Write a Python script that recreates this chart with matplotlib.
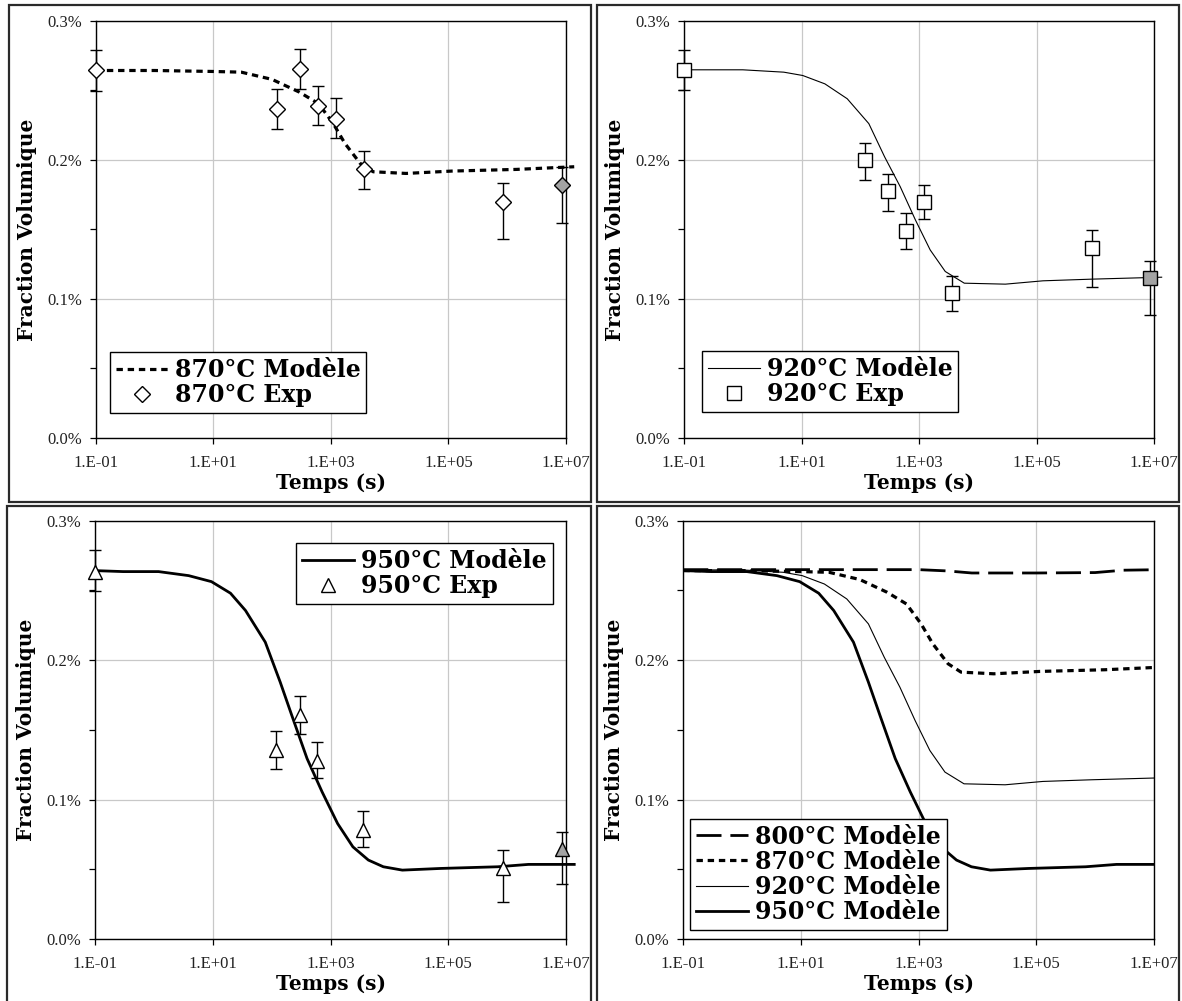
import numpy as np
import matplotlib
matplotlib.use("Agg")
import matplotlib.pyplot as plt
from matplotlib.ticker import FixedLocator, MultipleLocator, FuncFormatter, NullLocator
from matplotlib.patches import Rectangle

# ---- data (volume fraction in %) ----
t_exp = [0.1, 120, 300, 600, 1200, 3600, 864000, 8640000]

exp_870 = [0.2642, 0.2368, 0.2654, 0.2384, 0.2296, 0.1931, 0.1699, 0.1819]
lo_870 = [0.0146, 0.0146, 0.0143, 0.0136, 0.0139, 0.0141, 0.0265, 0.0270]
hi_870 = [0.0146, 0.0143, 0.0143, 0.0143, 0.0148, 0.0134, 0.0136, 0.0131]

exp_920 = [0.2647, 0.1997, 0.1775, 0.1488, 0.1698, 0.1046, 0.1364, 0.1149]
lo_920 = [0.0148, 0.0143, 0.0141, 0.0131, 0.0120, 0.0131, 0.0275, 0.0263]
hi_920 = [0.0143, 0.0127, 0.0122, 0.0131, 0.0120, 0.0120, 0.0131, 0.0120]

exp_950 = [0.2635, 0.1353, 0.1609, 0.1277, 0.0780, 0.0506, 0.0644]
t_exp_950 = [0.1, 120, 300, 600, 3600, 864000, 8640000]
lo_950 = [0.0136, 0.0131, 0.0136, 0.0122, 0.0119, 0.0243, 0.0246]
hi_950 = [0.0155, 0.0138, 0.0134, 0.0136, 0.0136, 0.0131, 0.0124]

t_800 = [0.1, 10, 1000, 3000, 8000, 100000, 1000000, 3000000, 13800000]
mod_800 = [0.2649, 0.2649, 0.2649, 0.2640, 0.2625, 0.2625, 0.2628, 0.2645, 0.2649]

t_870 = [0.1, 1, 10, 30, 100, 290, 620, 1100, 1740, 3160, 5250, 19000,
         115000, 1450000, 13800000]
mod_870 = [0.2642, 0.2642, 0.2635, 0.2630, 0.2578, 0.2487, 0.2403, 0.2260,
           0.2117, 0.1974, 0.1914, 0.1902, 0.1919, 0.1931, 0.1950]

t_920 = [0.1, 1, 5, 10.5, 25, 60, 140, 260, 480, 870, 1550, 2800, 5900,
         29500, 129000, 870000, 13500000]
mod_920 = [0.2647, 0.2647, 0.2630, 0.2606, 0.2546, 0.2439, 0.2260, 0.2021,
           0.1806, 0.1567, 0.1352, 0.1197, 0.1113, 0.1106, 0.1130, 0.1142,
           0.1156]

t_950 = [0.1, 0.3, 1.2, 3.9, 9.5, 20, 36, 78, 140, 220, 400, 720, 1320, 2400,
         4400, 7900, 16600, 74000, 690000, 2300000, 13800000]
mod_950 = [0.2642, 0.2635, 0.2635, 0.2606, 0.2563, 0.2480, 0.2356, 0.2129,
           0.1842, 0.1604, 0.1294, 0.1055, 0.0828, 0.0661, 0.0566, 0.0518,
           0.0494, 0.0506, 0.0518, 0.0535, 0.0535]

xticks = [0.1, 10, 1e3, 1e5, 1e7]

plt.rcParams['font.family'] = 'serif'
plt.rcParams['font.serif'] = ['Liberation Serif', 'DejaVu Serif']
bold = dict(family='DejaVu Serif', weight='bold')

W, H = 1182, 1001
fig = plt.figure(figsize=(W / 100, H / 100), dpi=100)

# panel frames (pixels: x0, y0, x1, y1)
for x0, y0, x1, y1 in [(9, 5, 591, 502), (597, 5, 1179, 502),
                       (7, 506, 591, 1003), (597, 506, 1179, 1003)]:
    fig.add_artist(Rectangle((x0 / W, 1 - y1 / H), (x1 - x0) / W, (y1 - y0) / H,
                             transform=fig.transFigure, fill=False,
                             edgecolor='#2a2a2a', lw=1.6))


def make_ax(x0, y0, x1, y1):
    ax = fig.add_axes([x0 / W, 1 - y1 / H, (x1 - x0) / W, (y1 - y0) / H])
    ax.set_xscale('log')
    ax.set_xlim(0.1, 1e7)
    ax.set_ylim(0, 0.3)
    ax.xaxis.set_major_locator(FixedLocator(xticks))
    ax.xaxis.set_minor_locator(NullLocator())
    ax.xaxis.set_major_formatter(FuncFormatter(
        lambda v, p: "1.E%+03d" % int(round(np.log10(v)))))
    ax.yaxis.set_major_locator(MultipleLocator(0.1))
    ax.yaxis.set_minor_locator(MultipleLocator(0.05))
    ax.yaxis.set_major_formatter(FuncFormatter(lambda v, p: "%.1f%%" % v))
    ax.grid(True, which='major', color='#c8c8c8', lw=0.9)
    ax.set_axisbelow(True)
    ax.tick_params(which='both', direction='out', length=4, width=0.9,
                   color='black', labelsize=12, labelcolor='#222222')
    ax.tick_params(axis='y', pad=6)
    ax.tick_params(axis='x', pad=8)
    for s in ax.spines.values():
        s.set_color('black')
        s.set_linewidth(1.0)
    ax.set_xlabel('Temps (s)', fontsize=14.5, **bold)
    ax.set_ylabel('Fraction Volumique', fontsize=14.5, **bold)
    ax.xaxis.set_label_coords(0.5, -0.084)
    ax.yaxis.set_label_coords(-0.125, 0.5)
    return ax


def exp_points(ax, t, y, lo, hi, marker, ms, label):
    ax.errorbar(t, y, yerr=[lo, hi], fmt='none', ecolor='black', elinewidth=1,
                capsize=4, capthick=1, zorder=3, clip_on=False)
    ax.plot(t[:-1], y[:-1], ls='none', marker=marker, ms=ms, mfc='white',
            mec='black', mew=1, zorder=4, clip_on=False, label=label)
    ax.plot(t[-1:], y[-1:], ls='none', marker=marker, ms=ms, mfc='#a3a3a3',
            mec='black', mew=1, zorder=4, clip_on=False)


def legend(ax, loc, anchor):
    lg = ax.legend(loc=loc, bbox_to_anchor=anchor, borderaxespad=0,
                   prop=dict(family='DejaVu Serif', weight='bold', size=17),
                   frameon=True, fancybox=False, framealpha=1,
                   edgecolor='black', handlelength=2.2, handletextpad=0.3,
                   borderpad=0.25, labelspacing=0.05, numpoints=1)
    lg.get_frame().set_linewidth(1.0)
    lg.set_zorder(10)
    return lg


dash870 = (0, (2.0, 1.5))
dash800 = (0, (9.0, 3.2))

# top left: 870
ax1 = make_ax(95.7, 20.7, 566, 438)
ax1.plot(t_870, mod_870, color='black', lw=2.3, ls=dash870, clip_on=False,
         zorder=2, label='870°C Modèle')
exp_points(ax1, t_exp, exp_870, lo_870, hi_870, 'D', 8, '870°C Exp')
legend(ax1, 'lower left', (0.030, 0.060))

# top right: 920
ax2 = make_ax(684, 20.7, 1154, 438)
ax2.plot(t_920, mod_920, color='black', lw=0.8, clip_on=False, zorder=2,
         label='920°C Modèle')
exp_points(ax2, t_exp, exp_920, lo_920, hi_920, 's', 9.5, '920°C Exp')
legend(ax2, 'lower left', (0.038, 0.062))

# bottom left: 950
ax3 = make_ax(95, 520.7, 566, 939)
ax3.plot(t_950, mod_950, color='black', lw=2.0, clip_on=False, zorder=2,
         label='950°C Modèle')
exp_points(ax3, t_exp_950, exp_950, lo_950, hi_950, '^', 10.5, '950°C Exp')
legend(ax3, 'upper right', (0.972, 0.947))

# bottom right: all models
ax4 = make_ax(683.3, 520.7, 1154, 939)
ax4.plot(t_800, mod_800, color='black', lw=2.0, ls=dash800, label='800°C Modèle')
ax4.plot(t_870, mod_870, color='black', lw=2.3, ls=dash870, label='870°C Modèle')
ax4.plot(t_920, mod_920, color='black', lw=0.8, label='920°C Modèle')
ax4.plot(t_950, mod_950, color='black', lw=2.0, label='950°C Modèle')
legend(ax4, 'lower left', (0.015, 0.0215))

fig.savefig('out.png', dpi=100)
